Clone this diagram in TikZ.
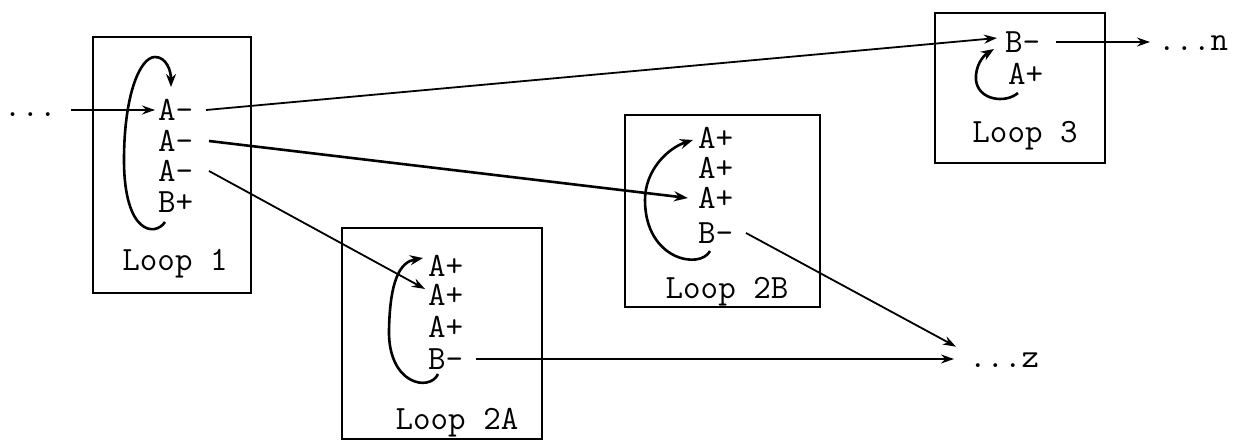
\documentclass[tikz,border=0pt]{standalone}
\usepackage{fontspec}
\usetikzlibrary{arrows.meta}
\begin{document}
\begin{tikzpicture}[x=1pt,y=-1pt,
  lbl/.style={font=\fontsize{34}{34}\selectfont\ttfamily\addfontfeatures{FakeBold=1.2}, inner sep=0pt, outer sep=0pt, anchor=west},
  looplabel/.style={font=\fontsize{34}{34}\selectfont\ttfamily\addfontfeatures{FakeBold=1.2}, inner sep=0pt, outer sep=0pt},
  loopbox/.style={draw, line width=2.8pt},
  arr/.style={-{Stealth[length=13pt,width=9pt]}, line width=1.8pt},
  thickarr/.style={-{Stealth[length=14pt,width=10pt]}, line width=2.6pt},
  cyc/.style={-{Stealth[length=13pt,width=10pt]}, line width=2.6pt}]
\useasboundingbox (0,0) rectangle (1240,441);

% boxes
\draw[loopbox] (93,37) rectangle (251,293);
\draw[loopbox] (342,228) rectangle (542,439);
\draw[loopbox] (625,115) rectangle (820,307);
\draw[loopbox] (935,13) rectangle (1105,163);

% Loop 1
\node[lbl] (L1a) at (158,110) {A—};
\node[lbl] (L1b) at (158,141) {A—};
\node[lbl] (L1c) at (158,171) {A—};
\node[lbl] (L1d) at (158,202) {B+};
\node[looplabel] (L1n) at (175,264) {Loop 1};

% Loop 2A
\node[lbl] (L2Aa) at (428,266) {A+};
\node[lbl] (L2Ab) at (428,295) {A+};
\node[lbl] (L2Ac) at (428,327) {A+};
\node[lbl] (L2Ad) at (428,359) {B—};
\node[looplabel] (L2An) at (457,423) {Loop 2A};

% Loop 2B
\node[lbl] (L2Ba) at (698,138) {A+};
\node[lbl] (L2Bb) at (698,168) {A+};
\node[lbl] (L2Bc) at (698,198) {A+};
\node[lbl] (L2Bd) at (698,233) {B—};
\node[looplabel] (L2Bn) at (727,292) {Loop 2B};

% Loop 3
\node[lbl] (L3b) at (1005,42) {B—};
\node[lbl] (L3a) at (1008,74) {A+};
\node[looplabel] (L3n) at (1025,136) {Loop 3};

% outside ends
\node[lbl, anchor=base west] (dotsL) at (4,117) {...};
\node[lbl, anchor=base west] (dotsN) at (1158,51) {...n};
\node[lbl, anchor=base west] (dotsZ) at (969,367) {...z};

% cycle arrows
\draw[cyc] (165,222) .. controls (155,237) and (124,234) .. (124,160)
  .. controls (124,95) and (140,57) .. (155,57)
  .. controls (166,57) and (171,70) .. (171,87);
\draw[cyc] (438,374) .. controls (430,392) and (388,385) .. (389,330)
  .. controls (390,280) and (400,262) .. (423,258);
\draw[cyc] (710,251) .. controls (700,270) and (645,260) .. (645,200)
  .. controls (645,170) and (668,148) .. (693,140);
\draw[cyc] (1018,93) .. controls (1005,104) and (978,100) .. (976,80)
  .. controls (975,66) and (983,56) .. (994,49);

% connectors
\draw[arr] ([xshift=14pt]dotsL.east |- L1a) -- ([xshift=-3pt]L1a.west);
\draw[arr] ([xshift=13pt]L1a.east) -- ([xshift=-8pt,yshift=4pt]L3b.west);
\draw[thickarr] ([xshift=16pt]L1b.east) -- ([xshift=-10pt]L2Bc.west);
\draw[arr] ([xshift=16pt]L1c.east) -- ([xshift=-3pt,yshift=6pt]L2Ab.west);
\draw[arr] ([xshift=13pt]L2Ad.east) -- ([xshift=-15pt]dotsZ.west |- L2Ad);
\draw[arr] ([xshift=13pt]L2Bd.east) -- ([xshift=-13pt,yshift=13pt]dotsZ.west);
\draw[arr] ([xshift=16pt]L3b.east) -- ([xshift=-8pt]dotsN.west |- L3b);
\end{tikzpicture}
\end{document}
